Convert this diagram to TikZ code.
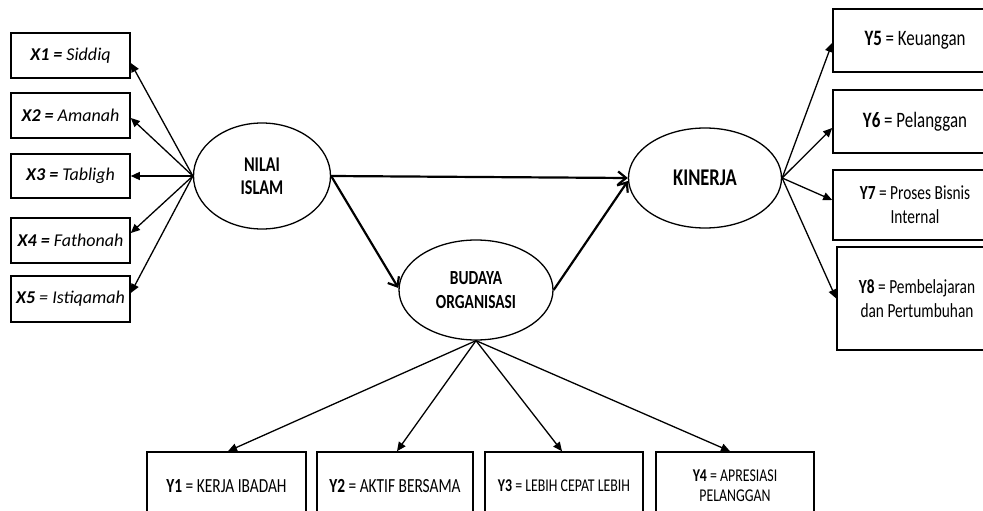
\documentclass[tikz,border=0pt]{standalone}
\usepackage{fontspec}
\setmainfont{Carlito}[FakeStretch=0.77]
\newfontfamily\xfont{Carlito}
\usetikzlibrary{shapes.geometric,arrows.meta}
\tikzset{
  box/.style={draw, line width=1.6pt, rectangle, inner sep=0pt, align=center},
  lat/.style={draw, line width=1.3pt, ellipse, inner sep=0pt, align=center, font=\bfseries},
  thin/.style={line width=1.3pt, -{Triangle[length=9pt,width=8pt]}},
  thick/.style={line width=2.2pt, -{Straight Barb[length=8pt,width=13pt,line width=2.2pt]}}
}
\begin{document}
\begin{tikzpicture}[x=1pt,y=-1pt]
\path[use as bounding box] (0,0) rectangle (983,511);
\clip (0,0) rectangle (983,511);
% latent variables
\node[lat, minimum width=137pt, minimum height=106pt, font=\bfseries\fontsize{21}{23}\selectfont] (ni) at (262,176) {NILAI\\ISLAM};
\node[lat, minimum width=154pt, minimum height=100pt, font=\bfseries\fontsize{20}{24}\selectfont] (bo) at (476,290) {BUDAYA\\ORGANISASI};
\node[lat, minimum width=153pt, minimum height=100pt, font=\bfseries\fontsize{24}{26}\selectfont] (ki) at (705,178) {KINERJA};
% X boxes
\begin{scope}[every node/.append style={box, minimum width=119pt, font=\xfont\itshape\fontsize{18}{20}\selectfont}]
\node[minimum height=45pt] (x1) at (70.5,55.5) {\textbf{X1 =} Siddiq};
\node[minimum height=45pt] (x2) at (70.5,115.5) {\textbf{X2 =} Amanah};
\node[minimum height=44pt] (x3) at (70.5,176) {\textbf{X3 =} Tabligh};
\node[minimum height=45pt] (x4) at (70.5,240.5) {\textbf{X4 =} Fathonah};
\node[minimum height=46pt] (x5) at (70.5,299) {\textbf{X5} = Istiqamah};
\end{scope}
% Y5-Y8 boxes (cut by the right edge)
\begin{scope}[every node/.append style={box, font=\fontsize{22}{24}\selectfont}]
\node[minimum width=164pt, minimum height=63pt] (y5) at (915,40.5) {\textbf{Y5} = Keuangan};
\node[minimum width=164pt, minimum height=63pt] (y6) at (915,121.5) {\textbf{Y6} = Pelanggan};
\node[minimum width=164pt, minimum height=70pt, font=\fontsize{20}{24}\selectfont] (y7) at (915,205) {\textbf{Y7} = Proses Bisnis\\Internal};
\node[minimum width=160pt, minimum height=103pt, font=\fontsize{20}{24}\selectfont] (y8) at (917,298.5) {\textbf{Y8} = Pembelajaran\\dan Pertumbuhan};
\end{scope}
% Y1-Y4 boxes (cut by the bottom edge)
\begin{scope}[every node/.append style={box, minimum height=68pt}]
\node[minimum width=159pt, font=\fontsize{20}{22}\selectfont] (y1) at (226.5,486) {\textbf{Y1} = KERJA IBADAH};
\node[minimum width=156pt, font=\fontsize{20}{22}\selectfont] (y2) at (395,486) {\textbf{Y2} = AKTIF BERSAMA};
\node[minimum width=158pt, font=\fontsize{18}{20}\selectfont] (y3) at (564,486) {\textbf{Y3} = LEBIH CEPAT LEBIH};
\node[minimum width=158pt, font=\fontsize{18}{20}\selectfont] (y4) at (735,486) {\textbf{Y4} = APRESIASI\\PELANGGAN};
\end{scope}
% indicator arrows
\draw[thin] (ni.west) -- ([yshift=-7.5pt]x1.east);
\draw[thin] (ni.west) -- ([yshift=-2.5pt]x2.east);
\draw[thin] (ni.west) -- (x3.east);
\draw[thin] (ni.west) -- ([yshift=7.5pt]x4.east);
\draw[thin] (ni.west) -- ([yshift=6pt]x5.east);
\draw[thin] (ki.east) -- ([yshift=-2.5pt]y5.west);
\draw[thin] (ki.east) -- ([yshift=-6.5pt]y6.west);
\draw[thin] (ki.east) -- ([yshift=5pt]y7.west);
\draw[thin] (ki.east) -- (y8.west);
\draw[thin] (bo.south) -- ([xshift=1.5pt]y1.north);
\draw[thin] (bo.south) -- ([xshift=2pt]y2.north);
\draw[thin] (bo.south) -- ([xshift=-2pt]y3.north);
\draw[thin] (bo.south) -- ([xshift=-5pt]y4.north);
% structural arrows
\draw[thick] (ni.east) -- (ki.west);
\draw[thick] (ni.east) -- ([yshift=2pt]bo.west);
\draw[thick] (bo.east) -- ([yshift=-3pt]ki.west);
\end{tikzpicture}
\end{document}
